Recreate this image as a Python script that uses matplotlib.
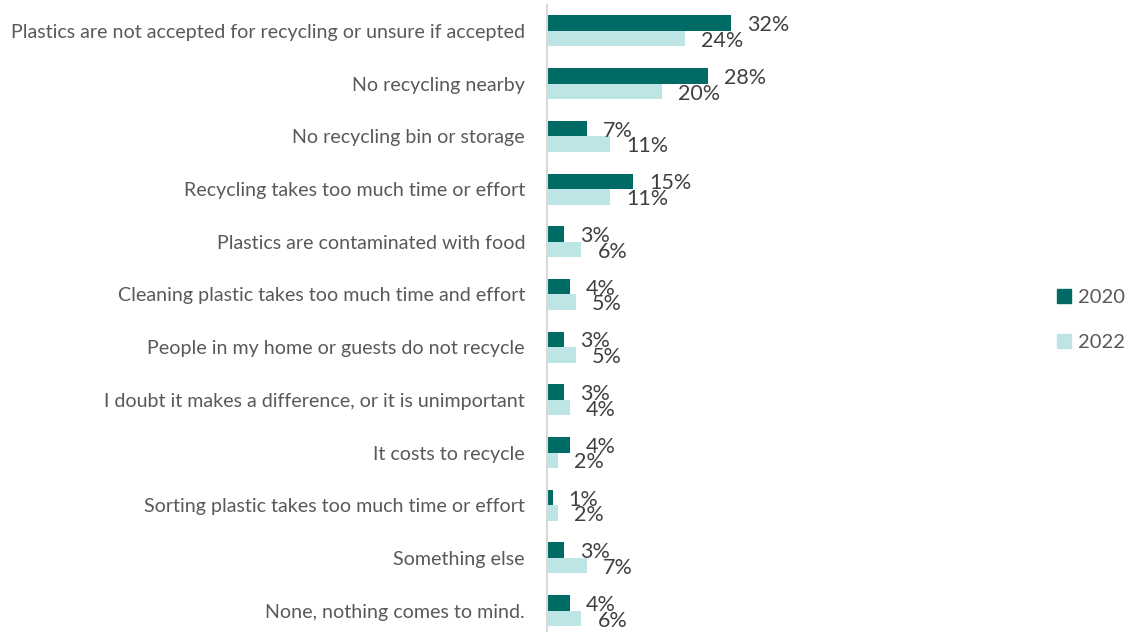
import numpy as np
import matplotlib.pyplot as plt
from matplotlib.patches import Patch

categories = [
    "Plastics are not accepted for recycling or unsure if accepted",
    "No recycling nearby",
    "No recycling bin or storage",
    "Recycling takes too much time or effort",
    "Plastics are contaminated with food",
    "Cleaning plastic takes too much time and effort",
    "People in my home or guests do not recycle",
    "I doubt it makes a difference, or it is unimportant",
    "It costs to recycle",
    "Sorting plastic takes too much time or effort",
    "Something else",
    "None, nothing comes to mind.",
]
vals_2020 = [32, 28, 7, 15, 3, 4, 3, 3, 4, 1, 3, 4]
vals_2022 = [24, 20, 11, 11, 6, 5, 5, 4, 2, 2, 7, 6]

c2020 = "#006B64"
c2022 = "#BDE5E5"

plt.rcParams['font.family'] = ['Lato', 'DejaVu Sans']

W, H = 1129, 632
fig = plt.figure(figsize=(W / 100, H / 100), dpi=100)
# axes placed in pixel terms: left edge at the category axis line
left, right, top, bottom = 547, 748, 4.6, 637
ax = fig.add_axes([left / W, (H - bottom) / H, (right - left) / W, (bottom - top) / H])

y = np.arange(len(categories))
h = 0.295
ax.barh(y - h / 2, vals_2020, height=h, color=c2020, label="2020")
ax.barh(y + h / 2, vals_2022, height=h, color=c2022, label="2022")

for yi, v in zip(y, vals_2020):
    ax.annotate(f"{v}%", (v, yi - h / 2), xytext=(11.5, -1.5), textcoords="offset points",
                va="center", ha="left", fontsize=15.5, color="#404040")
for yi, v in zip(y, vals_2022):
    ax.annotate(f"{v}%", (v, yi + h / 2), xytext=(11.5, -1.5), textcoords="offset points",
                va="center", ha="left", fontsize=15.5, color="#404040")

ax.set_xlim(0, 35)
ax.set_ylim(len(categories) - 0.5, -0.5)
ax.set_yticks(y)
ax.set_yticklabels(categories, fontsize=14.1, color="#595959")
ax.tick_params(axis="y", length=0, pad=15.8)
ax.set_xticks([])
for s in ["top", "right", "bottom"]:
    ax.spines[s].set_visible(False)
ax.spines["left"].set_color("#D9D9D9")
ax.spines["left"].set_linewidth(1.5)
ax.set_facecolor("none")

handles = [Patch(color=c2020, label="2020"), Patch(color=c2022, label="2022")]
fig.legend(handles=handles, loc="center left", bbox_to_anchor=(1057 / W, 1 - 320 / H),
           frameon=False, fontsize=14.5, labelcolor="#595959", handlelength=0.7,
           handleheight=0.7, handletextpad=0.35, labelspacing=1.35,
           borderpad=0, borderaxespad=0)

fig.savefig("out.png", dpi=100)
